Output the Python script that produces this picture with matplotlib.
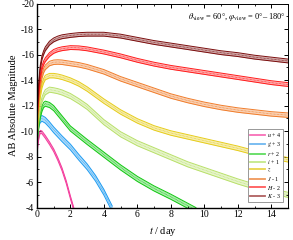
import numpy as np
import matplotlib
matplotlib.use("Agg")
import matplotlib.pyplot as plt
from matplotlib.lines import Line2D

plt.rcParams['font.family'] = 'Liberation Serif'
plt.rcParams['mathtext.fontset'] = 'stix'
plt.rcParams['axes.unicode_minus'] = False

# light curves (t in days, AB magnitude incl. offset)
t_u = [0, 0.05, 0.1, 0.15, 0.2, 0.3, 0.5, 0.75, 1, 1.25, 1.5, 1.75, 2, 2.2]
m_u = [-8.1, -8.9, -9.4, -9.75, -9.95, -9.9, -9.55, -9.05, -8.5, -7.8, -7.0, -6.0, -4.8, -3.9]

t_g = [0, 0.05, 0.1, 0.15, 0.2, 0.3, 0.5, 0.75, 1, 1.5, 2, 2.5, 3, 3.5, 4, 4.5]
m_g = [-9.3, -10.0, -10.5, -10.75, -10.9, -11.0, -10.85, -10.5, -10.1, -9.4, -8.75, -7.95,
       -7.2, -6.3, -5.2, -3.9]

t_r = [0, 0.05, 0.1, 0.15, 0.2, 0.3, 0.4, 0.5, 0.75, 1, 1.5, 2, 3, 4, 5, 6, 7, 8, 9, 9.5]
m_r = [-9.0, -9.7, -10.3, -10.8, -11.2, -11.75, -12.05, -12.15, -12.05, -11.8, -11.0, -10.2,
       -9.15, -8.15, -7.15, -6.25, -5.5, -4.85, -4.15, -3.8]

t_full = [0, 0.05, 0.1, 0.15, 0.2, 0.3, 0.4, 0.5, 0.75, 1, 1.25, 1.5, 2, 2.5, 3,
          4, 5, 6, 7, 8, 9, 10, 11, 12, 13, 14, 15]
m_i = [-9.3, -10.1, -10.8, -11.35, -11.8, -12.45, -12.8, -13.05, -13.25, -13.2, -13.13, -13.03,
       -12.75, -12.35, -11.9, -10.7, -9.75, -9.05, -8.5, -7.95, -7.4, -6.95, -6.5, -6.05,
       -5.65, -5.3, -5.0]
m_z = [-9.5, -10.6, -11.5, -12.2, -12.8, -13.55, -13.95, -14.2, -14.35, -14.35, -14.3, -14.22,
       -14.0, -13.7, -13.3, -12.35, -11.5, -10.8, -10.25, -9.85, -9.55, -9.25, -8.95, -8.65,
       -8.3, -8.0, -7.75]
m_J = [-10.3, -11.4, -12.3, -13.0, -13.55, -14.3, -14.75, -15.0, -15.3, -15.4, -15.42, -15.4,
       -15.3, -15.2, -15.05, -14.65, -14.1, -13.65, -13.2, -12.75, -12.4, -12.1, -11.85,
       -11.65, -11.5, -11.35, -11.25]
m_H = [-10.5, -11.8, -12.8, -13.6, -14.2, -14.95, -15.35, -15.6, -16.0, -16.25, -16.38, -16.46,
       -16.55, -16.53, -16.45, -16.2, -15.9, -15.55, -15.25, -15.0, -14.8, -14.6, -14.4,
       -14.2, -14.0, -13.8, -13.65]
m_K = [-11.0, -12.4, -13.5, -14.35, -15.0, -15.75, -16.15, -16.45, -16.9, -17.15, -17.3, -17.4,
       -17.5, -17.57, -17.6, -17.6, -17.45, -17.2, -16.95, -16.75, -16.55, -16.35, -16.15,
       -16.0, -15.8, -15.65, -15.5]

labels = [r'$u$ + 4', r'$g$ + 3', r'$r$ + 2', r'$i$ + 1', r'$z$', r'$J$ - 1', r'$H$ - 2', r'$K$ - 3']
times = [t_u, t_g, t_r, t_full, t_full, t_full, t_full, t_full]
mags = [m_u, m_g, m_r, m_i, m_z, m_J, m_H, m_K]
widths = [0.22, 0.45, 0.4, 0.4, 0.35, 0.35, 0.3, 0.3]  # spread over viewing angle
colors = ['#f43c9c', '#1f9cf2', '#10c810', '#b8e068', '#e6cc1a', '#f07c2a', '#ff1a1a', '#7a0c0c']
leg_colors = ['#f870b8', '#70b8f0', '#60dc60', '#c4e88a', '#e8d44c', '#f0985a', '#ff5a5a', '#b06060']

fig = plt.figure(figsize=(2.93, 2.4), dpi=100)
ax = fig.add_axes([0.126, 0.135, 0.857, 0.85])

for t, m, w, c in zip(times, mags, widths, colors):
    t = np.array(t)
    m = np.array(m)
    ax.fill_between(t, m - w / 2, m + w / 2, color=c, alpha=0.35, lw=0)
    ax.plot(t, m - w / 2, color=c, lw=0.7)
    ax.plot(t, m + w / 2, color=c, lw=0.7)
    ax.plot(t, m, color=c, lw=0.5, ls=(0, (1, 1)))

ax.set_xlim(0, 15)
ax.set_ylim(-4, -20)
ax.set_xticks(np.arange(0, 15, 2))
ax.set_xticks(np.arange(0, 16, 1), minor=True)
ax.set_yticks(np.arange(-20, -3, 2))
ax.set_yticks(np.arange(-20, -3, 1), minor=True)
ax.tick_params(which='both', direction='in', top=True, right=True, labelsize=7, pad=2)
ax.tick_params(which='major', length=3, width=0.7)
ax.tick_params(which='minor', length=1.5, width=0.6)
for s in ['left', 'bottom']:
    ax.spines[s].set_linewidth(1.0)
for s in ['top', 'right']:
    ax.spines[s].set_linewidth(0.7)

ax.set_xlabel(r'$t$ / day', fontsize=7.5, labelpad=4)
ax.set_ylabel('AB Absolute Magnitude', fontsize=7.5, labelpad=2)

ax.text(0.99, 0.935, r'$\theta_{\rm view}$ = 60°, $\varphi_{\rm view}$ = 0°– 180°',
        transform=ax.transAxes, ha='right', va='center', fontsize=6)

handles = [Line2D([0], [0], color=c, lw=1.3) for c in leg_colors]
leg = ax.legend(handles, labels, loc='lower right', bbox_to_anchor=(0.98, 0.027),
                fontsize=4.3, frameon=True, fancybox=False, handlelength=2.5,
                handletextpad=0.3, labelspacing=0.12, borderpad=0.3, borderaxespad=0)
leg.get_frame().set_edgecolor('#888888')
leg.get_frame().set_linewidth(0.6)
leg.get_frame().set_alpha(1)

fig.savefig('out.png', dpi=100)
